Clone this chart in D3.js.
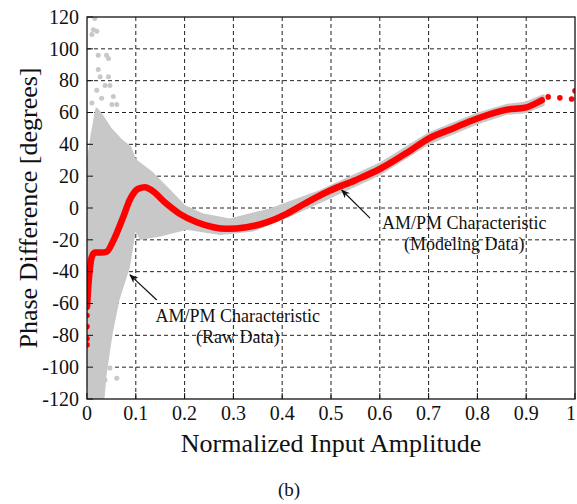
<!DOCTYPE html>
<html>
<head>
<meta charset="utf-8">
<script src="https://cdn.jsdelivr.net/npm/d3@7"></script>
<style>
  body { margin: 0; background: #fff; }
</style>
</head>
<body>
<div id="chart"></div>
<script>
const xTicks = [0, 0.1, 0.2, 0.3, 0.4, 0.5, 0.6, 0.7, 0.8, 0.9, 1];
const yTicks = [-120, -100, -80, -60, -40, -20, 0, 20, 40, 60, 80, 100, 120];

// modeled AM/PM curve (red)
const modelAmp   = [0, 0.003, 0.006, 0.0096, 0.016, 0.03, 0.04, 0.054, 0.074, 0.088, 0.105, 0.119, 0.133, 0.163, 0.19, 0.225, 0.259, 0.286, 0.327, 0.368, 0.409, 0.436, 0.464, 0.498, 0.55, 0.6, 0.662, 0.7, 0.75, 0.8, 0.86, 0.898, 0.932];
const modelPhase = [-62, -48, -38, -31, -28, -28, -27.5, -20.5, -5.8, 5.3, 12.1, 13.1, 11, 2.6, -3.7, -9, -12.1, -13.1, -12.1, -9, -3.7, 1, 5.8, 11, 17.5, 24.5, 36, 43.6, 50, 56.2, 61.8, 63.1, 67.7];
// isolated modeled samples
const tailAmp   = [0, 0, 0, 0, 0.945, 0.969, 0.993, 1.0];
const tailPhase = [-67.5, -74.5, -82, -86, 69.8, 69.2, 68.5, 73.6];

// raw data cloud (gray): upper and lower edges of the dense region
const rawUpperAmp   = [0, 0.01, 0.02, 0.03, 0.047, 0.068, 0.088, 0.098, 0.133, 0.167, 0.2, 0.238, 0.293, 0.375, 0.477, 0.6, 0.7, 0.8, 0.86, 0.9, 0.935];
const rawUpperPhase = [25, 45, 62, 58, 50, 43, 38, 30, 21.8, 11.3, 0.8, -4.4, -7.5, -1.2, 10.3, 27.5, 46.5, 59, 64.5, 66, 70.5];
const rawLowerAmp   = [0, 0.005, 0.033, 0.037, 0.044, 0.05, 0.064, 0.085, 0.098, 0.11, 0.15, 0.204, 0.273, 0.341, 0.409, 0.477, 0.6, 0.7, 0.8, 0.86, 0.9, 0.935];
const rawLowerPhase = [-100, -119, -119, -105, -90, -78, -57, -37, -12, -19, -17, -12.8, -16, -13.8, -5.4, 4, 21.5, 40.8, 53.5, 59.5, 60.5, 65];
// scattered raw samples outside the dense region
const rawDotAmp   = [0.016, 0.013, 0.020, 0.010, 0.023, 0.040, 0.044, 0.023, 0.027, 0.044, 0.037, 0.020, 0.047, 0.010, 0.054, 0.061, 0.030, 0.051, 0.023, 0.037, 0.061, 0.047, 0.012, 0.028];
const rawDotPhase = [119, 112, 111, 109, 96, 96, 94, 87, 82.5, 82.5, 77, 74, 77, 66, 70, 65, 69, 65, -118.5, -108, -107, -100.5, -118, -121];

const W = 577, H = 504;
const FONT = "'Liberation Serif', 'Times New Roman', 'DejaVu Serif', serif";

const svg = d3.select("#chart").append("svg")
    .attr("width", W)
    .attr("height", H)
    .attr("font-family", FONT);

const x = d3.scaleLinear().domain([0, 1]).range([87, 575]);
const y = d3.scaleLinear().domain([-120, 120]).range([399, 17]);

const defs = svg.append("defs");
const plot = svg.append("g");

// clip so curve/cloud stay inside the frame
defs.append("clipPath").attr("id", "clip")
    .append("rect")
    .attr("x", x(0)).attr("y", y(120))
    .attr("width", x(1) - x(0)).attr("height", y(-120) - y(120));

// dashed grid
plot.append("g")
    .selectAll("line")
    .data(xTicks.slice(1, -1))
    .join("line")
    .attr("x1", d => x(d)).attr("x2", d => x(d))
    .attr("y1", y(-120)).attr("y2", y(120))
    .attr("stroke", "#222")
    .attr("stroke-width", 1)
    .attr("stroke-dasharray", "4,3");

plot.append("g")
    .selectAll("line")
    .data(yTicks.slice(1, -1))
    .join("line")
    .attr("x1", x(0)).attr("x2", x(1))
    .attr("y1", d => y(d)).attr("y2", d => y(d))
    .attr("stroke", "#222")
    .attr("stroke-width", 1)
    .attr("stroke-dasharray", "4,3");

const data = plot.append("g").attr("clip-path", "url(#clip)");

// raw data cloud
const upper = rawUpperAmp.map((a, i) => [a, rawUpperPhase[i]]);
const lower = rawLowerAmp.map((a, i) => [a, rawLowerPhase[i]]).reverse();
data.append("path")
    .attr("d", d3.line().x(d => x(d[0])).y(d => y(d[1])).curve(d3.curveLinearClosed)(upper.concat(lower)))
    .attr("fill", "#c8c8c8")
    .attr("stroke", "#c8c8c8")
    .attr("stroke-width", 3)
    .attr("stroke-linejoin", "round");

data.append("g")
    .selectAll("circle")
    .data(rawDotAmp.map((a, i) => [a, rawDotPhase[i]]))
    .join("circle")
    .attr("cx", d => x(d[0]))
    .attr("cy", d => y(d[1]))
    .attr("r", 2.5)
    .attr("fill", "#c8c8c8");

// modeled curve
data.append("path")
    .attr("d", d3.line().x((d, i) => x(modelAmp[i])).y(d => y(d)).curve(d3.curveMonotoneX)(modelPhase))
    .attr("fill", "none")
    .attr("stroke", "#ff0000")
    .attr("stroke-width", 6.5)
    .attr("stroke-linecap", "round");

data.append("g")
    .selectAll("circle")
    .data(tailAmp.map((a, i) => [a, tailPhase[i]]))
    .join("circle")
    .attr("cx", d => x(d[0]))
    .attr("cy", d => y(d[1]))
    .attr("r", 2.8)
    .attr("fill", "#ff0000");

// inward ticks
const tickLen = 6;
plot.append("g").selectAll("line")
    .data(xTicks)
    .join("line")
    .attr("x1", d => x(d)).attr("x2", d => x(d))
    .attr("y1", y(-120)).attr("y2", y(-120) - tickLen)
    .attr("stroke", "#111");
plot.append("g").selectAll("line")
    .data(yTicks)
    .join("line")
    .attr("x1", x(0)).attr("x2", x(0) + tickLen)
    .attr("y1", d => y(d)).attr("y2", d => y(d))
    .attr("stroke", "#111");

// frame
plot.append("rect")
    .attr("x", x(0)).attr("y", y(120))
    .attr("width", x(1) - x(0)).attr("height", y(-120) - y(120))
    .attr("fill", "none")
    .attr("stroke", "#111")
    .attr("stroke-width", 1.3);

// tick labels (last one pulled in so it stays on the page)
svg.append("g").selectAll("text")
    .data(xTicks)
    .join("text")
    .attr("x", d => d === 1 ? x(d) + 1 : x(d))
    .attr("y", 420)
    .attr("text-anchor", d => d === 1 ? "end" : "middle")
    .attr("fill", "#111")
    .style("font-size", "20px")
    .text(d => String(d));

svg.append("g").selectAll("text")
    .data(yTicks)
    .join("text")
    .attr("x", 79)
    .attr("y", d => y(d))
    .attr("dy", "0.34em")
    .attr("text-anchor", "end")
    .attr("fill", "#111")
    .style("font-size", "20px")
    .text(d => String(d));

// axis titles
svg.append("text")
    .attr("x", (x(0) + x(1)) / 2)
    .attr("y", 452)
    .attr("text-anchor", "middle")
    .attr("fill", "#111")
    .style("font-size", "26px")
    .text("Normalized Input Amplitude");

svg.append("text")
    .attr("transform", `translate(37,${(y(120) + y(-120)) / 2}) rotate(-90)`)
    .attr("text-anchor", "middle")
    .attr("fill", "#111")
    .style("font-size", "26px")
    .text("Phase Difference [degrees]");

svg.append("text")
    .attr("x", 289)
    .attr("y", 496)
    .attr("text-anchor", "middle")
    .attr("fill", "#111")
    .style("font-size", "19px")
    .text("(b)");

// annotations
defs.append("marker")
    .attr("id", "arrow")
    .attr("viewBox", "0 0 10 10")
    .attr("refX", 9).attr("refY", 5)
    .attr("markerWidth", 9).attr("markerHeight", 9)
    .attr("markerUnits", "userSpaceOnUse")
    .attr("orient", "auto")
    .append("path")
    .attr("d", "M0,1 L10,5 L0,9 L3,5 Z")
    .attr("fill", "#111");

const notes = [
    { tip: [0.088, -42], tail: [0.143, -57.8], at: [0.309, -71.6], lines: ["AM/PM Characteristic", "(Raw Data)"] },
    { tip: [0.522, 11.3], tail: [0.58, -6.4], at: [0.773, -13.2], lines: ["AM/PM Characteristic", "(Modeling Data)"] }
];

notes.forEach(n => {
    svg.append("line")
        .attr("x1", x(n.tail[0])).attr("y1", y(n.tail[1]))
        .attr("x2", x(n.tip[0])).attr("y2", y(n.tip[1]))
        .attr("stroke", "#111")
        .attr("stroke-width", 1.2)
        .attr("marker-end", "url(#arrow)");
    const t = svg.append("text")
        .attr("x", x(n.at[0]))
        .attr("y", y(n.at[1]))
        .attr("text-anchor", "middle")
        .attr("fill", "#111")
        .style("font-size", "18px");
    n.lines.forEach((s, i) => {
        t.append("tspan")
            .attr("x", x(n.at[0]))
            .attr("dy", i === 0 ? 0 : 21)
            .text(s);
    });
});
</script>
</body>
</html>
